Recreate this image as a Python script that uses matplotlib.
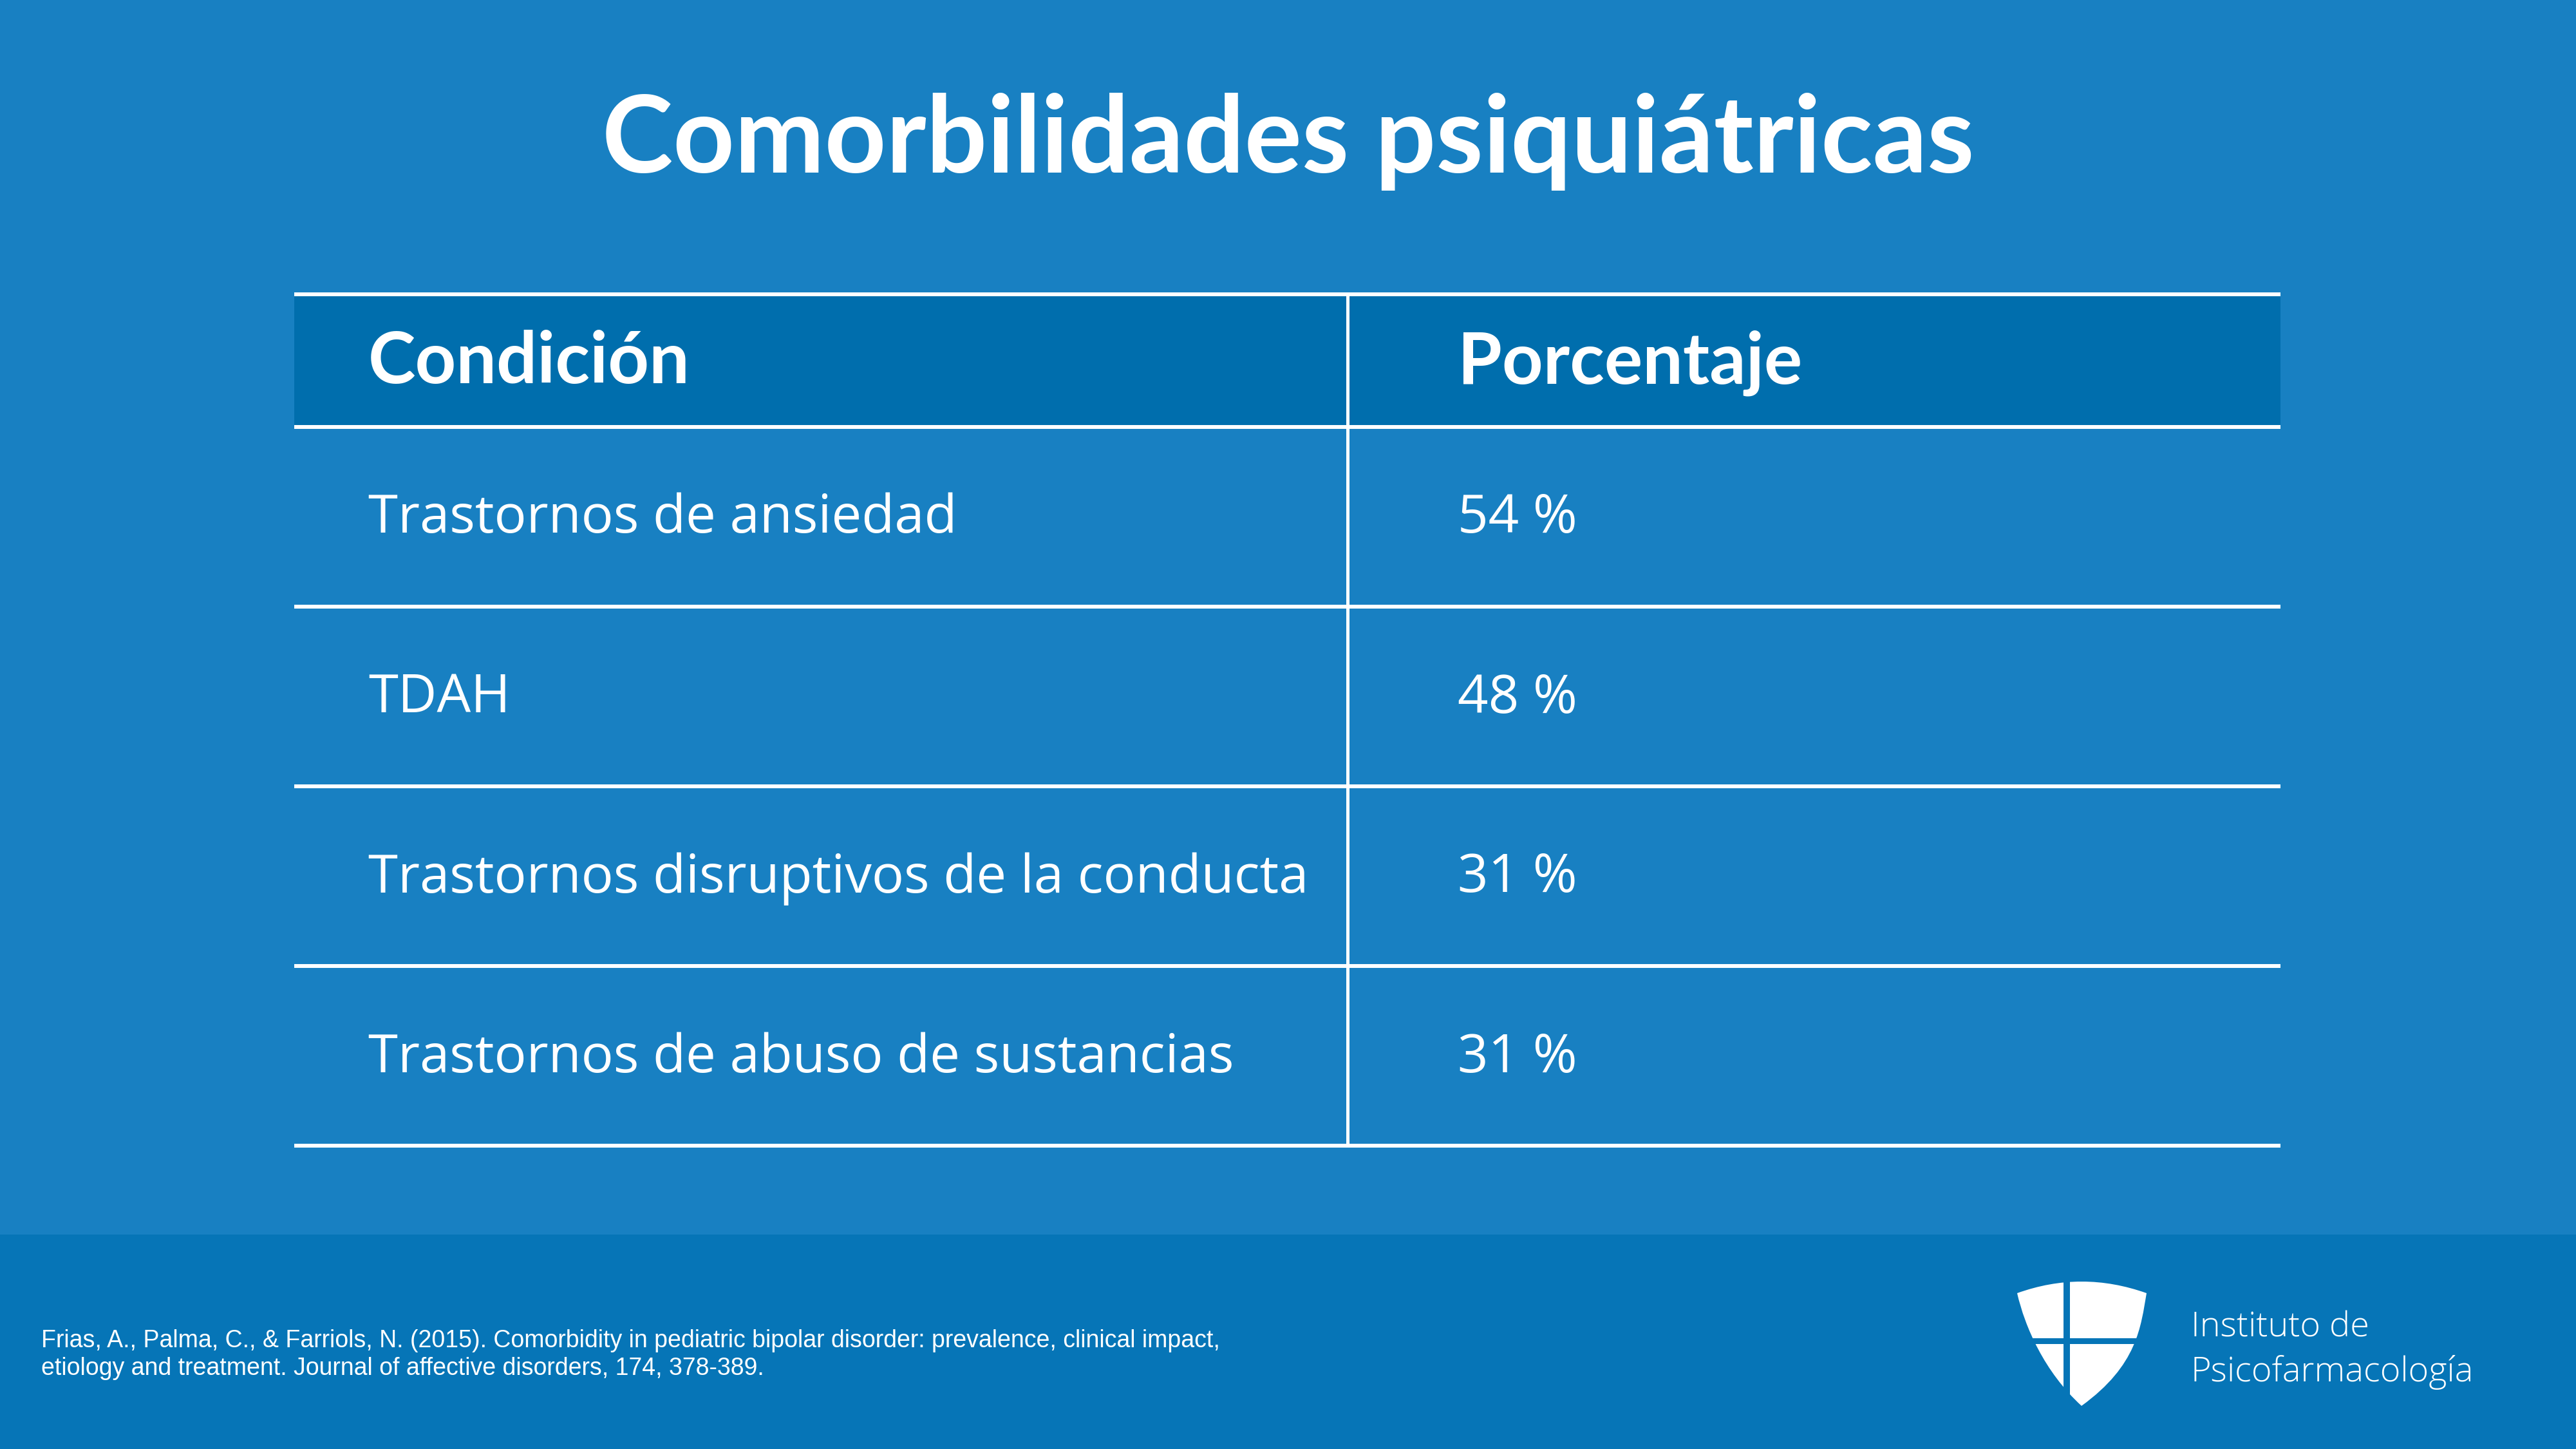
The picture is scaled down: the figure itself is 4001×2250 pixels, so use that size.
import numpy as np
import matplotlib.pyplot as plt
from matplotlib.path import Path
from matplotlib.patches import PathPatch, Rectangle

# table content
title = "Comorbilidades psiquiátricas"
headers = ["Condición", "Porcentaje"]
conditions = ["Trastornos de ansiedad", "TDAH",
              "Trastornos disruptivos de la conducta",
              "Trastornos de abuso de sustancias"]
percentages = [54, 48, 31, 31]
citation = ["Frias, A., Palma, C., & Farriols, N. (2015). Comorbidity in pediatric bipolar disorder: prevalence, clinical impact,",
            "etiology and treatment. Journal of affective disorders, 174, 378-389."]
logo_text = ["Instituto de", "Psicofarmacología"]

bg = "#1880c2"
head_bg = "#006ead"
foot_bg = "#0675b7"

W, H = 4001, 2250
fig = plt.figure(figsize=(W / 100, H / 100), dpi=100, facecolor=bg)
ax = fig.add_axes([0, 0, 1, 1])
ax.set_xlim(0, W)
ax.set_ylim(H, 0)
ax.axis("off")
ax.set_facecolor(bg)

# title
ax.text(W / 2, 268, title, ha="center", va="baseline", color="white",
        fontsize=120, fontweight="bold", family="Lato")

# table geometry
left, right, mid = 457, 3542, 2093
top, head_bot = 457, 663
row_h = (1779 - head_bot) / len(conditions)
row_lines = head_bot + row_h * np.arange(len(conditions) + 1)

ax.add_patch(Rectangle((left, top), right - left, head_bot - top,
                       facecolor=head_bg, edgecolor="none", zorder=1))
ax.hlines([top] + list(row_lines), left, right, color="white", lw=4.3, zorder=3)
ax.vlines(mid, top, row_lines[-1], color="white", lw=3.6, zorder=3)

col_x = [572, 2264]
for x, h in zip(col_x, headers):
    ax.text(x, 595, h, ha="left", va="baseline", color="white",
            fontsize=80, fontweight="bold", family="Lato", zorder=4)

for i, (c, p) in enumerate(zip(conditions, percentages)):
    yb = (row_lines[i] + row_lines[i + 1]) / 2 + 25
    ax.text(col_x[0], yb, c, ha="left", va="baseline", color="white",
            fontsize=60, family="Open Sans", zorder=4)
    ax.text(col_x[1], yb, f"{p} %", ha="left", va="baseline", color="white",
            fontsize=60, family="Open Sans", zorder=4)

# footer band
ax.add_patch(Rectangle((0, 1917), W, H - 1917, facecolor=foot_bg,
                       edgecolor="none", zorder=1))
for k, line in enumerate(citation):
    ax.text(64, 2092 + 43 * k, line, ha="left", va="baseline", color="white",
            fontsize=27, family="Liberation Sans", zorder=4)

# shield logo
verts = [(3133, 2008), (3233, 1972), (3334, 2008),
         (3325, 2060), (3320, 2120), (3233, 2183),
         (3175, 2130), (3145, 2060), (3133, 2008)]
codes = [Path.MOVETO, Path.CURVE3, Path.CURVE3,
         Path.CURVE4, Path.CURVE4, Path.CURVE4,
         Path.CURVE4, Path.CURVE4, Path.CURVE4]
ax.add_patch(PathPatch(Path(verts, codes), facecolor="white",
                       edgecolor="none", zorder=4))
ax.add_patch(Rectangle((3205, 1960), 10, 240, facecolor=foot_bg,
                       edgecolor="none", zorder=5))
ax.add_patch(Rectangle((3120, 2078), 230, 9, facecolor=foot_bg,
                       edgecolor="none", zorder=5))

for k, line in enumerate(logo_text):
    ax.text(3403, 2076 + 69 * k, line, ha="left", va="baseline", color="white",
            fontsize=39, fontweight="light", family="Open Sans", zorder=4)

fig.savefig("out.png", dpi=100, facecolor=bg)
